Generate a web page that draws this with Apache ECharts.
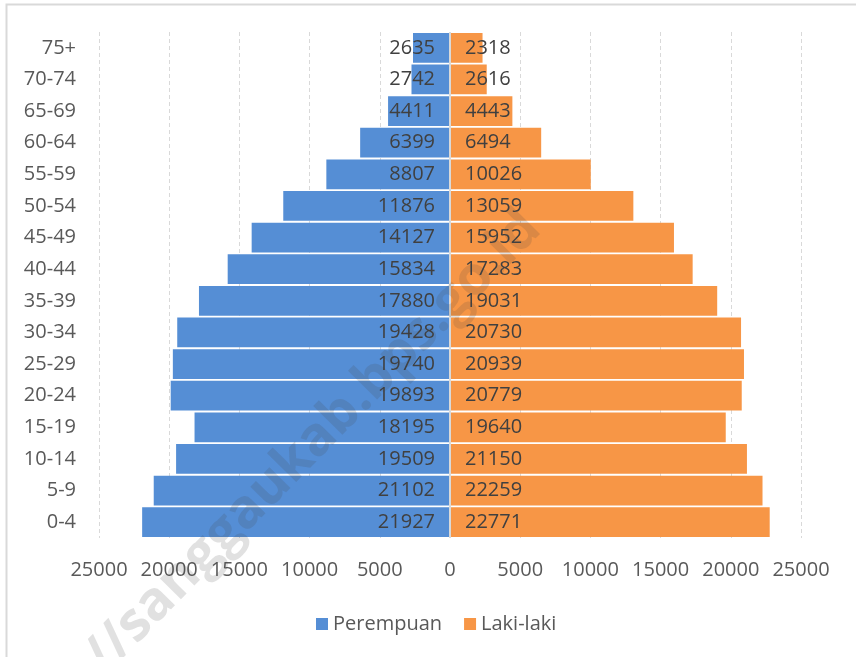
<!DOCTYPE html>
<html>
<head>
<meta charset="utf-8">
<script src="https://cdn.jsdelivr.net/npm/echarts@6/dist/echarts.min.js"></script>
<style>
  html, body { margin: 0; padding: 0; background: #fff; }
  #char { width: 856px; height: 657px; }
</style>
</head>
<body>
<div id="char"></div>
<script>
// kelompok umur, dari bawah ke atas
var ageGroups = ["0-4", "5-9", "10-14", "15-19", "20-24", "25-29", "30-34", "35-39",
  "40-44", "45-49", "50-54", "55-59", "60-64", "65-69", "70-74", "75+"];
var perempuan = [21927, 21102, 19509, 18195, 19893, 19740, 19428, 17880,
  15834, 14127, 11876, 8807, 6399, 4411, 2742, 2635];
var lakiLaki = [22771, 22259, 21150, 19640, 20779, 20939, 20730, 19031,
  17283, 15952, 13059, 10026, 6494, 4443, 2616, 2318];
var xMin = -25000, xMax = 25000, xStep = 5000;

var font = "'Open Sans', 'Noto Sans', sans-serif";
var myChart = echarts.init(document.getElementById("char"));

var option = {
  animation: false,
  textStyle: { fontFamily: font },
  graphic: [
    {
      type: "rect",
      shape: { x: 6.5, y: 4.5, width: 900, height: 700 },
      style: { fill: "none", stroke: "#d9d9d9", lineWidth: 2 },
      silent: true
    },
    {
      // watermark
      type: "text",
      x: 532,
      y: 220,
      rotation: 45.5 * Math.PI / 180,
      z: 100,
      silent: true,
      style: {
        text: "http://sanggaukab.bps.go.id",
        font: "bold 54px " + font,
        fill: "rgba(70,70,70,0.16)",
        textAlign: "right",
        textVerticalAlign: "middle"
      }
    }
  ],
  legend: {
    top: 609,
    left: 311,
    itemWidth: 12,
    itemHeight: 12,
    itemGap: 22,
    icon: "rect",
    textStyle: { fontSize: 20, color: "#595959", fontFamily: font },
    data: ["Perempuan", "Laki-laki"]
  },
  grid: {
    left: 99,
    right: 55,
    top: 32,
    bottom: 119,
    containLabel: false
  },
  xAxis: {
    type: "value",
    min: xMin,
    max: xMax,
    interval: xStep,
    axisLine: { show: false },
    axisTick: { show: false },
    axisLabel: {
      fontSize: 20,
      color: "#595959",
      margin: 22,
      formatter: function (v) { return Math.abs(v); }
    },
    splitLine: {
      show: true,
      lineStyle: { color: "#d9d9d9", type: [4, 3], width: 1 }
    }
  },
  yAxis: {
    type: "category",
    data: ageGroups,
    axisLine: { show: false },
    axisTick: { show: false },
    axisLabel: { fontSize: 20, color: "#595959", margin: 23 }
  },
  series: [
    {
      name: "Perempuan",
      type: "bar",
      barGap: "-100%",
      barCategoryGap: "6%",
      itemStyle: { color: "#558ed5" },
      label: {
        show: true,
        position: "insideRight",
        distance: 15,
        fontSize: 20,
        color: "#404040",
        fontFamily: font,
        formatter: function (p) { return Math.abs(p.value); }
      },
      data: perempuan.map(function (v) { return -v; }),
      markLine: {
        silent: true,
        symbol: "none",
        label: { show: false },
        lineStyle: { color: "#d9d9d9", type: "solid", width: 2 },
        data: [{ xAxis: 0 }]
      }
    },
    {
      name: "Laki-laki",
      type: "bar",
      barGap: "-100%",
      barCategoryGap: "6%",
      itemStyle: { color: "#f79646" },
      label: {
        show: true,
        position: "insideLeft",
        distance: 15,
        fontSize: 20,
        color: "#404040",
        fontFamily: font
      },
      data: lakiLaki
    }
  ]
};

myChart.setOption(option);
</script>
</body>
</html>
